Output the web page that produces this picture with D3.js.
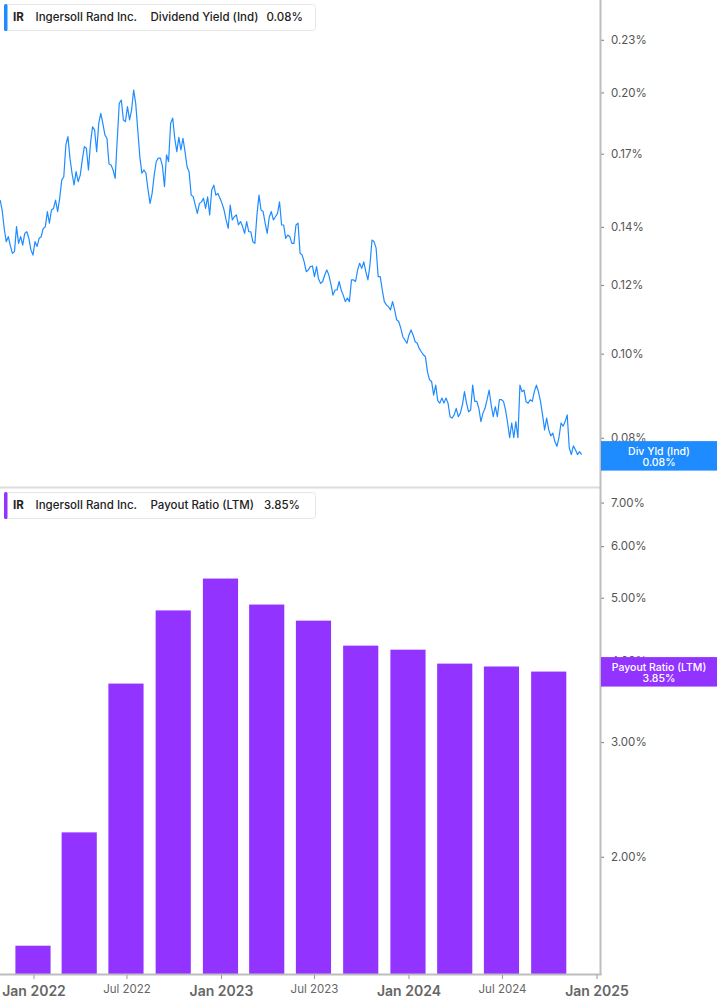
<!DOCTYPE html>
<html><head><meta charset="utf-8">
<script src="https://cdn.jsdelivr.net/npm/d3@7"></script>
<style>
html,body{margin:0;padding:0;background:#fff;}
svg{display:block;font-family:Inter,"Noto Sans",sans-serif;}
</style></head><body>
<svg id="chart" width="717" height="1005"></svg>
<script>
// ---------- DATA ----------
const divYieldStart = "2021-10-27";
const divYieldStepDays = 4;
const divYieldValues = [
0.1503,0.1464,0.1394,0.1346,0.1364,0.1331,0.1305,0.1311,0.1401,0.1340,
0.1364,0.1334,0.1376,0.1382,0.1358,0.1317,0.1299,0.1346,0.1329,0.1358,
0.1364,0.1394,0.1400,0.1458,0.1414,0.1464,0.1470,0.1503,0.1458,0.1510,
0.1585,0.1599,0.1740,0.1779,0.1680,0.1614,0.1565,0.1621,0.1578,0.1606,
0.1672,0.1732,0.1725,0.1628,0.1748,0.1826,0.1810,0.1709,0.1842,0.1892,
0.1842,0.1787,0.1771,0.1654,0.1650,0.1628,0.1592,0.1763,0.1943,0.1960,
0.1859,0.1851,0.1926,0.1859,0.1909,0.2013,0.1943,0.1810,0.1687,0.1614,
0.1628,0.1614,0.1544,0.1490,0.1531,0.1606,0.1665,0.1680,0.1680,0.1646,
0.1558,0.1695,0.1665,0.1843,0.1868,0.1771,0.1709,0.1775,0.1717,0.1771,
0.1709,0.1642,0.1619,0.1523,0.1517,0.1483,0.1451,0.1490,0.1496,0.1510,
0.1470,0.1516,0.1445,0.1544,0.1564,0.1523,0.1530,0.1510,0.1490,0.1464,
0.1426,0.1394,0.1483,0.1426,0.1438,0.1445,0.1407,0.1420,0.1401,0.1376,
0.1420,0.1382,0.1382,0.1346,0.1340,0.1445,0.1523,0.1464,0.1458,0.1414,
0.1376,0.1437,0.1458,0.1426,0.1438,0.1451,0.1496,0.1407,0.1407,0.1358,
0.1370,0.1364,0.1340,0.1340,0.1407,0.1414,0.1305,0.1299,0.1276,0.1243,
0.1249,0.1260,0.1262,0.1227,0.1260,0.1219,0.1205,0.1211,0.1232,0.1249,
0.1232,0.1203,0.1168,0.1184,0.1184,0.1211,0.1184,0.1168,0.1148,0.1159,
0.1148,0.1216,0.1216,0.1211,0.1249,0.1271,0.1254,0.1276,0.1243,0.1216,
0.1265,0.1352,0.1346,0.1323,0.1227,0.1227,0.1184,0.1148,0.1138,0.1133,
0.1123,0.1148,0.1123,0.1094,0.1089,0.1070,0.1046,0.1037,0.1028,0.1051,
0.1065,0.1051,0.1032,0.1028,0.1014,0.1005,0.0997,0.0992,0.0953,0.0933,
0.0929,0.0896,0.0920,0.0883,0.0877,0.0889,0.0877,0.0889,0.0877,0.0846,
0.0843,0.0850,0.0865,0.0846,0.0854,0.0873,0.0904,0.0877,0.0857,0.0861,
0.0920,0.0881,0.0881,0.0865,0.0835,0.0854,0.0865,0.0885,0.0908,0.0873,
0.0846,0.0869,0.0846,0.0885,0.0885,0.0881,0.0861,0.0832,0.0800,0.0832,
0.0800,0.0835,0.0800,0.0920,0.0904,0.0908,0.0880,0.0877,0.0885,0.0881,
0.0904,0.0920,0.0904,0.0881,0.0850,0.0817,0.0843,0.0817,0.0804,0.0810,
0.0792,0.0782,0.0801,0.0832,0.0825,0.0835,0.0850,0.0779,0.0765,0.0783,
0.0775,0.0765,0.0771,0.0765
];
const payoutDates = ["2021-12-31","2022-03-31","2022-06-30","2022-09-30","2022-12-31","2023-03-31",
                     "2023-06-30","2023-09-30","2023-12-31","2024-03-31","2024-06-30","2024-09-30"];
const payoutValues = [1.46,2.18,3.69,4.78,5.35,4.88,4.61,4.22,4.16,3.96,3.92,3.85];
const yieldTicks = [0.08,0.10,0.12,0.14,0.17,0.20,0.23];
const payoutTicks = [2,3,4,5,6,7];
const xTickDates = ["2022-01-01","2022-07-01","2023-01-01","2023-07-01","2024-01-01","2024-07-01","2025-01-01"];
const xTickLabels = ["Jan 2022","Jul 2022","Jan 2023","Jul 2023","Jan 2024","Jul 2024","Jan 2025"];
const ticker = "IR";
const company = "Ingersoll Rand Inc.";
const topMetric = "Dividend Yield (Ind)";
const topMetricShort = "Div Yld (Ind)";
const topLast = "0.08%";
const botMetric = "Payout Ratio (LTM)";
const botLast = "3.85%";

// ---------- SETUP ----------
const blue = "#1e8cff", purple = "#9333ff";
const parse = d3.utcParse("%Y-%m-%d");
const svg = d3.select("#chart");
const plotRight = 600;
const topPanel = [0, 487], botPanel = [488, 974];

const x = d3.scaleUtc().domain([parse("2022-01-01"), parse("2025-01-01")]).range([34, 597]);
const yTop = d3.scaleLog().domain([0.0702, 0.2556]).range([topPanel[1], topPanel[0]]);
const yBot = d3.scaleLog().domain([1.321, 7.37]).range([botPanel[1], botPanel[0]]);

const start = parse(divYieldStart);
const lineData = divYieldValues.map((v, i) => ({date: d3.utcDay.offset(start, i * divYieldStepDays), v}));
const barData = payoutDates.map((d, i) => ({date: parse(d), v: payoutValues[i]}));

// separator between panels
svg.append("line").attr("x1", 0).attr("x2", plotRight).attr("y1", 487.5).attr("y2", 487.5)
  .attr("stroke", "#dcdcdc").attr("stroke-width", 2);

// ---------- TOP PANEL ----------
svg.append("path").datum(lineData)
  .attr("fill", "none").attr("stroke", blue).attr("stroke-width", 1.2).attr("stroke-linejoin", "round")
  .attr("d", d3.line().x(d => x(d.date)).y(d => yTop(d.v)));

// ---------- BOTTOM PANEL ----------
const spacing = (x(barData[barData.length - 1].date) - x(barData[0].date)) / (barData.length - 1);
const barW = spacing * 0.75;
svg.append("g").selectAll("rect").data(barData).join("rect")
  .attr("x", d => x(d.date) - barW / 2 - 0.5)
  .attr("width", barW)
  .attr("y", d => yBot(d.v))
  .attr("height", d => botPanel[1] - yBot(d.v))
  .attr("fill", purple);

// ---------- AXES ----------
const axisColor = "#bdbdbd";
const rTop = svg.append("g").attr("transform", `translate(${plotRight + 1},0)`)
  .call(d3.axisRight(yTop).tickValues(yieldTicks).tickSize(3).tickPadding(7).tickFormat(d => d.toFixed(2) + "%"));
const rBot = svg.append("g").attr("transform", `translate(${plotRight + 1},0)`)
  .call(d3.axisRight(yBot).tickValues(payoutTicks).tickSize(3).tickPadding(7).tickFormat(d => d.toFixed(2) + "%"));
[rTop, rBot].forEach(g => {
  g.select(".domain").remove();
  g.selectAll(".tick line").attr("stroke", "#777");
  g.selectAll(".tick text").attr("fill", "#555").attr("font-size", 11.5).attr("font-family", "Inter, sans-serif");
});
svg.append("line").attr("x1", plotRight + 0.5).attr("x2", plotRight + 0.5).attr("y1", 0).attr("y2", 975)
  .attr("stroke", axisColor).attr("stroke-width", 2);

svg.append("line").attr("x1", 0).attr("x2", plotRight + 1.5).attr("y1", 974.5).attr("y2", 974.5)
  .attr("stroke", axisColor).attr("stroke-width", 2);
const xTicks = xTickDates.map((d, i) => ({date: parse(d), label: xTickLabels[i], major: xTickLabels[i].startsWith("Jan")}));
const xg = svg.append("g");
xg.selectAll("line").data(xTicks).join("line")
  .attr("x1", d => x(d.date)).attr("x2", d => x(d.date)).attr("y1", 975).attr("y2", 979)
  .attr("stroke", "#999").attr("stroke-width", 1);
xg.selectAll("text").data(xTicks).join("text")
  .attr("x", d => x(d.date))
  .attr("y", d => d.major ? 996 : 993)
  .attr("text-anchor", "middle")
  .attr("font-size", d => d.major ? 14 : 11.5)
  .attr("font-weight", d => d.major ? 600 : 400)
  .attr("fill", "#666")
  .text(d => d.label);

// ---------- LAST VALUE LABELS ----------
function lastLabel(yc, color, l1, l2) {
  const g = svg.append("g");
  g.append("rect").attr("x", plotRight + 1).attr("y", yc - 14.5).attr("width", 717 - plotRight - 1).attr("height", 29.5).attr("fill", color);
  g.append("text").attr("x", 659).attr("y", yc - 1).attr("text-anchor", "middle").attr("fill", "#fff")
    .attr("font-size", 10.5).attr("font-weight", 500).text(l1);
  g.append("text").attr("x", 659).attr("y", yc + 10).attr("text-anchor", "middle").attr("fill", "#fff")
    .attr("font-size", 10.5).attr("font-weight", 500).text(l2);
}
const lastLine = lineData[lineData.length - 1];
lastLabel(yTop(lastLine.v) + 1, blue, topMetricShort, topLast);
lastLabel(yBot(barData[barData.length - 1].v), purple, botMetric, botLast);

// ---------- LEGENDS ----------
function legend(y0, color, metric, val) {
  const g = svg.append("g");
  g.append("rect").attr("x", 4.5).attr("y", y0 + 0.5).attr("width", 311).attr("height", 26).attr("rx", 3)
    .attr("fill", "#fff").attr("stroke", "#e6e6e6");
  g.append("rect").attr("x", 4).attr("y", y0).attr("width", 3.5).attr("height", 27).attr("rx", 1.5).attr("fill", color);
  const ty = y0 + 17;
  const fs = 11.5;
  g.append("text").attr("x", 13).attr("y", ty).attr("font-size", fs).attr("font-weight", 700).attr("fill", "#222").text(ticker);
  g.append("text").attr("x", 35.5).attr("y", ty).attr("font-size", fs).attr("font-weight", 500).attr("fill", "#222").text(company);
  g.append("text").attr("x", 150.5).attr("y", ty).attr("font-size", fs).attr("font-weight", 500).attr("fill", "#222").text(metric);
  g.append("text").attr("x", val.x).attr("y", ty).attr("font-size", fs).attr("font-weight", 500).attr("fill", "#222").text(val.t);
}
legend(4, blue, topMetric, {x: 266.5, t: topLast});
legend(492, purple, botMetric, {x: 264, t: botLast});
</script>
</body></html>
